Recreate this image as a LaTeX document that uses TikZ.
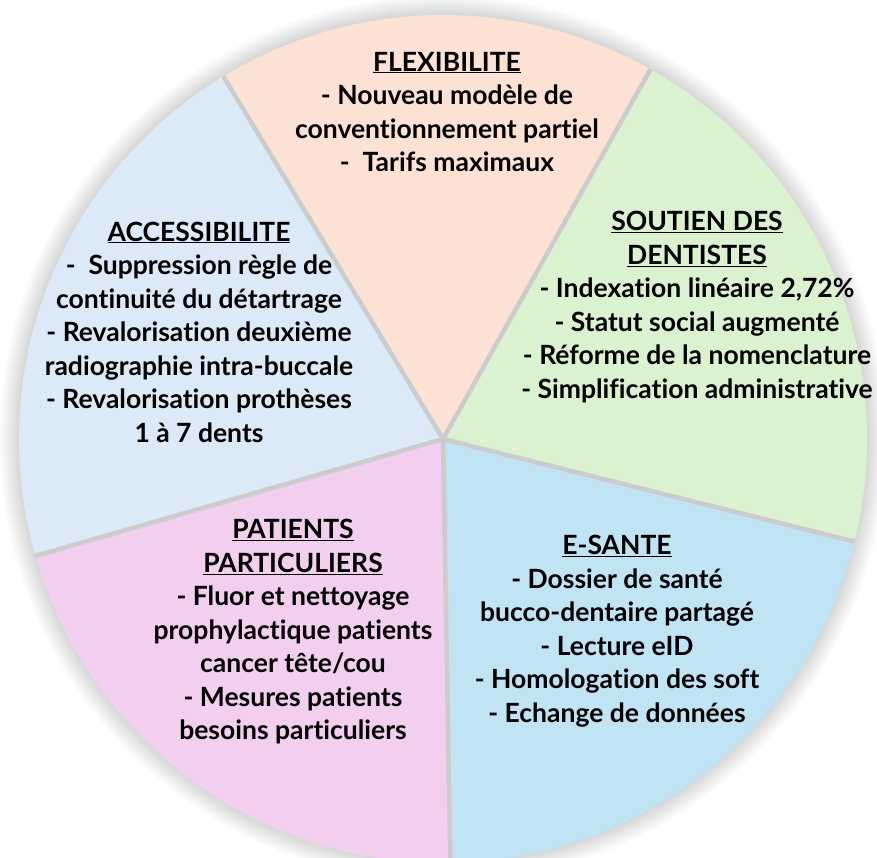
\documentclass[tikz,border=0pt]{standalone}
\usepackage{fontspec}
\setmainfont{Lato}[Ligatures=NoCommon]
\usepackage{tikz}
\usetikzlibrary{positioning}
\tikzstyle{pieFrame} = [x = 1pt, y = -1pt]
\definecolor{flexColor}{HTML}{FBE2D5}
\definecolor{soutienColor}{HTML}{DAF2D0}
\definecolor{esanteColor}{HTML}{C1E4F5}
\definecolor{patientsColor}{HTML}{F2CEEF}
\definecolor{accessColor}{HTML}{DCEAF7}
\definecolor{sepColor}{HTML}{CCCCCC}
\tikzstyle{sepLine} = [color=sepColor, line width=4.5pt]
\tikzstyle{sliceText} = [align=center, inner sep=0pt, font=\fontsize{26.5}{33.5}\selectfont\bfseries]
\newcommand{\pieRadius}{424}
\newcommand{\pieSlice}[3]{\fill [#3] (ctr) -- ++(#1:\pieRadius) arc [start angle=#1, end angle=#2, radius=\pieRadius] -- cycle;}
\newcommand{\pieSep}[1]{\draw [sepLine] (ctr) -- ++(#1:\pieRadius);}
\newcommand{\pieGlow}[1]{
  \foreach \ring in {1,...,#1} {
    \fill [black, opacity=0.009] (ctr) circle (\pieRadius + \ring);
  }
}

\begin{document}
\begin{tikzpicture}[pieFrame]
  \useasboundingbox (0,0) rectangle (877,858);
  \clip (0,0) rectangle (877,858);
  \coordinate (ctr) at (443,439);
  \pieGlow{20}

  \pieSlice{-121.2}{-60.7}{flexColor}
  \pieSlice{-60.7}{14}{soutienColor}
  \pieSlice{14}{89}{esanteColor}
  \pieSlice{89}{164}{patientsColor}
  \pieSlice{164}{238.8}{accessColor}

  \foreach \edge in {-121.2,-60.7,14,89,164} {
    \pieSep{\edge}
  }

  \node [sliceText] (flexText) at (447,112)
    {\underline{FLEXIBILITE}\\- Nouveau modèle de\\conventionnement partiel\\-~ Tarifs maximaux};
  \node [sliceText] (soutienText) at (697,307)
    {\underline{SOUTIEN DES}\\\underline{DENTISTES}\\- Indexation linéaire 2,72\%\\- Statut social augmenté\\- Réforme de la nomenclature\\- Simplification administrative};
  \node [sliceText] (accessText) at (199,332)
    {\underline{ACCESSIBILITE}\\-~ Suppression règle de\\continuité du détartrage\\- Revalorisation deuxième\\radiographie intra-buccale\\- Revalorisation prothèses\\1 à 7 dents};
  \node [sliceText] (patientsText) at (293,632)
    {\underline{PATIENTS}\\\underline{PARTICULIERS}\\- Fluor et nettoyage\\prophylactique patients\\cancer tête/cou\\- Mesures patients\\besoins particuliers};
  \node [sliceText] (esanteText) at (617,631)
    {\underline{E-SANTE}\\- Dossier de santé\\bucco-dentaire partagé\\- Lecture eID\\- Homologation des soft\\- Echange de données};
\end{tikzpicture}
\end{document}
